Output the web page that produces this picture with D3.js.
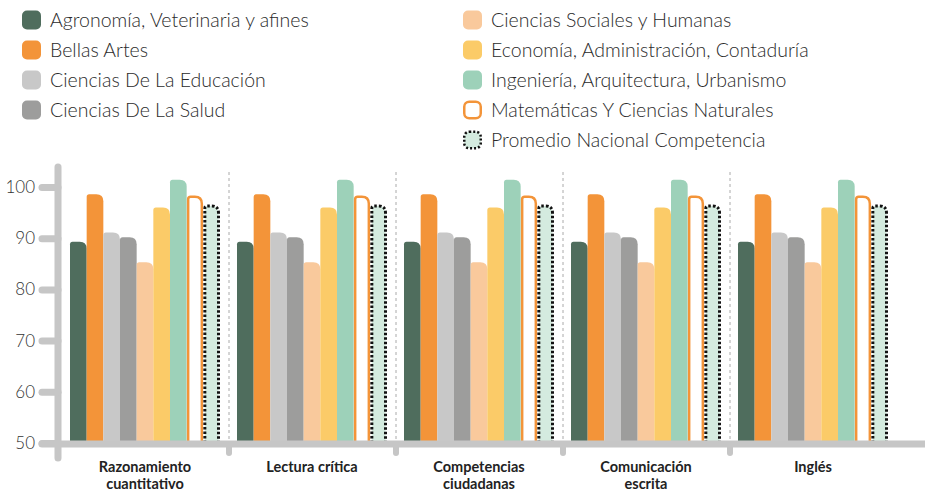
<!DOCTYPE html>
<html>
<head>
<meta charset="utf-8">
<script src="https://cdn.jsdelivr.net/npm/d3@7"></script>
<style>
  body { margin: 0; background: #fff; }
  svg { display: block; font-family: Lato, "Open Sans", sans-serif; }
</style>
</head>
<body>
<svg id="chart" width="925" height="495"></svg>
<script>
// data
var categories = ["Razonamiento\ncuantitativo", "Lectura crítica", "Competencias\nciudadanas", "Comunicación\nescrita", "Inglés"];
var series = ["Agronomía, Veterinaria y afines", "Bellas Artes", "Ciencias De La Educación", "Ciencias De La Salud",
              "Ciencias Sociales y Humanas", "Economía, Administración, Contaduría", "Ingeniería, Arquitectura, Urbanismo",
              "Matemáticas Y Ciencias Naturales", "Promedio Nacional Competencia"];
var agronomia   = [89.3, 89.3, 89.3, 89.3, 89.3];
var bellasArtes = [98.6, 98.6, 98.6, 98.6, 98.6];
var educacion   = [91.1, 91.1, 91.1, 91.1, 91.1];
var salud       = [90.2, 90.2, 90.2, 90.2, 90.2];
var sociales    = [85.3, 85.3, 85.3, 85.3, 85.3];
var economia    = [96.0, 96.0, 96.0, 96.0, 96.0];
var ingenieria  = [101.4, 101.4, 101.4, 101.4, 101.4];
var matematicas = [98.4, 98.4, 98.4, 98.4, 98.4];
var promedio    = [96.6, 96.6, 96.6, 96.6, 96.6];
var yTicks = [50, 60, 70, 80, 90, 100];

var values = [agronomia, bellasArtes, educacion, salud, sociales, economia, ingenieria, matematicas, promedio];
var fills   = ["#4f6d5d", "#f39439", "#c8c8c8", "#9d9d9c", "#f9c99c", "#fbcb68", "#9dd1b9", "#ffffff", "#d4ebdf"];
var strokes = [null, null, null, null, null, null, null, "#f39439", "#111"];

var svg = d3.select("#chart"),
    axisCol = "#c6c6c6";

var x = d3.scaleBand().domain(categories).range([62, 897]);
var xi = d3.scaleBand().domain(series).range([8, 158]);
var y = d3.scaleLinear().domain([50, 100]).range([443, 187]);

// legend
var legend = svg.append("g").selectAll("g")
  .data(series).enter().append("g")
  .attr("transform", (d, i) => i < 4 ? `translate(22,${20 + i * 30})` : `translate(463,${20 + (i - 4) * 30})`);
legend.append("rect")
  .attr("x", (d, i) => strokes[i] ? 1.25 : 0)
  .attr("y", (d, i) => strokes[i] ? -8.25 : -9.5)
  .attr("width", (d, i) => strokes[i] ? 16.5 : 19)
  .attr("height", (d, i) => strokes[i] ? 16.5 : 19)
  .attr("rx", 5)
  .attr("fill", (d, i) => fills[i])
  .attr("stroke", (d, i) => strokes[i])
  .attr("stroke-width", 2.5)
  .attr("stroke-dasharray", (d, i) => i == 8 ? "2,2" : null);
legend.append("text")
  .attr("x", 28)
  .attr("dy", "0.35em")
  .attr("font-size", 19.5)
  .attr("font-weight", 300)
  .attr("fill", "#2b2b2b")
  .text(d => d);

// dashed separators
var seps = categories.slice(0, 4).map(c => x(c) + x.bandwidth());
svg.append("g").selectAll("line").data(seps).enter().append("line")
  .attr("x1", d => d).attr("x2", d => d)
  .attr("y1", 172).attr("y2", 443)
  .attr("stroke", "#aaa").attr("stroke-dasharray", "3,3");

// bars with rounded tops (top right rounder)
function barPath(x0, w, yt, yb) {
  var rl = 2.5, rr = 7;
  return `M${x0},${yb}V${yt + rl}Q${x0},${yt} ${x0 + rl},${yt}H${x0 + w - rr}Q${x0 + w},${yt} ${x0 + w},${yt + rr}V${yb}`;
}
var groups = svg.append("g").selectAll("g")
  .data(categories).enter().append("g")
  .attr("transform", d => `translate(${x(d)},0)`);
groups.selectAll("path")
  .data((c, ci) => series.map((s, si) => ({s: s, si: si, v: values[si][ci]})))
  .enter().append("path")
  .attr("d", d => {
    var inset = strokes[d.si] ? 1.5 : 0;
    return barPath(xi(d.s) + inset, xi.bandwidth() - 2 * inset, y(d.v) + inset, y(50)) + (strokes[d.si] ? "" : "Z");
  })
  .attr("fill", d => fills[d.si])
  .attr("stroke", d => strokes[d.si])
  .attr("stroke-width", d => d.si == 8 ? 3 : 2.5)
  .attr("stroke-dasharray", d => d.si == 8 ? "2.5,2" : null);

// y axis
svg.append("line")
  .attr("x1", 58).attr("x2", 58).attr("y1", 167).attr("y2", 458)
  .attr("stroke", axisCol).attr("stroke-width", 7).attr("stroke-linecap", "round");
var yAxis = svg.append("g")
  .attr("transform", "translate(58,0)")
  .call(d3.axisLeft(y).tickValues(yTicks).tickSize(16).tickPadding(7));
yAxis.select(".domain").remove();
yAxis.selectAll(".tick line")
  .attr("stroke", axisCol).attr("stroke-width", 7).attr("stroke-linecap", "round");
yAxis.selectAll(".tick text")
  .attr("font-family", "Lato, sans-serif").attr("font-size", 17).attr("font-weight", 300).attr("fill", "#333");

// x axis
svg.append("g").selectAll("line").data(seps).enter().append("line")
  .attr("x1", d => d).attr("x2", d => d).attr("y1", 444).attr("y2", 453)
  .attr("stroke", axisCol).attr("stroke-width", 6).attr("stroke-linecap", "round");
svg.append("line")
  .attr("x1", 42).attr("x2", 930).attr("y1", 444).attr("y2", 444)
  .attr("stroke", axisCol).attr("stroke-width", 7).attr("stroke-linecap", "round");

var labels = svg.append("g").selectAll("text")
  .data(categories).enter().append("text")
  .attr("x", d => x(d) + xi.range()[0] + (xi.range()[1] - xi.range()[0]) / 2)
  .attr("y", 472)
  .attr("text-anchor", "middle")
  .attr("font-size", 14.5)
  .attr("font-weight", 700)
  .attr("fill", "#222");
labels.selectAll("tspan")
  .data(d => d.split("\n")).enter().append("tspan")
  .attr("x", function() { return this.parentNode.getAttribute("x"); })
  .attr("dy", (d, i) => i ? 17 : 0)
  .text(d => d);
</script>
</body>
</html>
